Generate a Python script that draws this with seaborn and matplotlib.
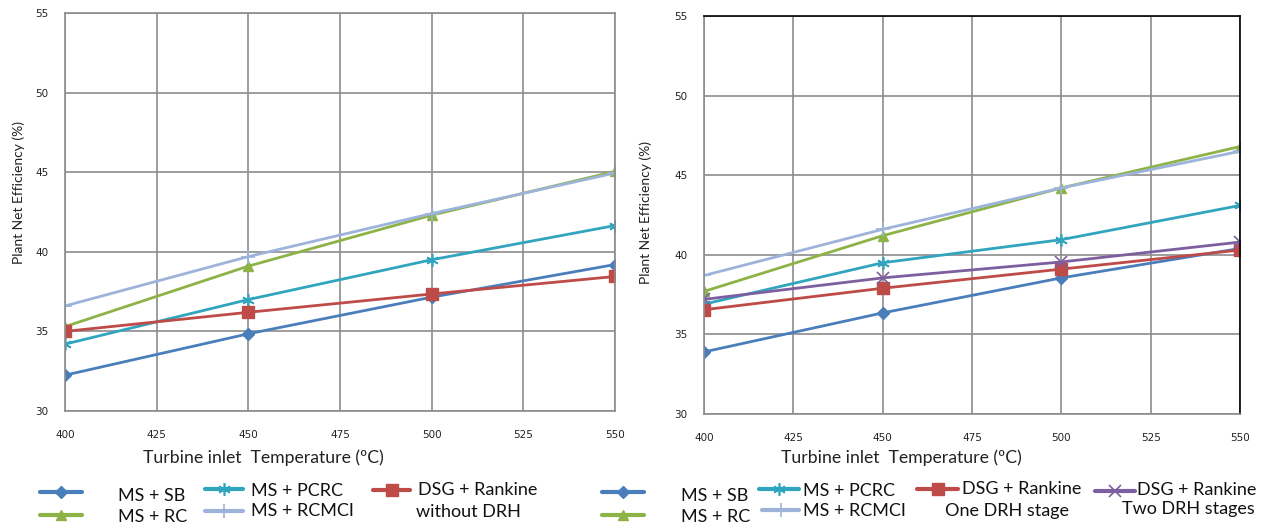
import matplotlib
matplotlib.use('Agg')
import matplotlib.pyplot as plt
from matplotlib.lines import Line2D
import seaborn as sns

sns.set_style('white')
plt.rcParams['font.family'] = ['DejaVu Sans']

# temperatures (ºC)
temps = [400, 450, 500, 550]

# left panel: without DRH
left_sb = [32.25, 34.85, 37.15, 39.2]
left_rc = [35.3, 39.1, 42.3, 45.05]
left_pcrc = [34.2, 37.0, 39.5, 41.65]
left_rcmci = [36.6, 39.7, 42.4, 44.95]
left_dsg = [35.0, 36.2, 37.35, 38.45]

# right panel: with DRH
right_sb = [33.9, 36.35, 38.55, 40.4]
right_rc = [37.7, 41.2, 44.2, 46.8]
right_pcrc = [36.9, 39.5, 40.95, 43.1]
right_rcmci = [38.7, 41.6, 44.2, 46.5]
right_dsg1 = [36.55, 37.9, 39.1, 40.3]
right_dsg2 = [37.2, 38.55, 39.55, 40.8]

C_SB = '#4A7EBB'
C_RC = '#8DB347'
C_PCRC = '#31A4BE'
C_RCMCI = '#9DB3DA'
C_DSG1 = '#BE4B48'
C_DSG2 = '#7D5FA0'
ASTER = (6, 2, 0)

GRID = '#8C8C8C'
FONT = 'Lato'

fig = plt.figure(figsize=(12.82, 5.26), dpi=100)
axL = fig.add_axes([65/1282, 1-411/526, 550/1282, 398/526])
axR = fig.add_axes([704/1282, 1-414/526, 536/1282, 398/526])


def draw(ax, series):
    for vals, col, mk, ms, mew in series:
        sns.lineplot(x=temps, y=vals, ax=ax, color=col, marker=mk,
                     markersize=ms, markeredgewidth=mew, markeredgecolor=col,
                     linewidth=2.0, legend=False)
    ax.set_xlim(400, 550)
    ax.set_ylim(30, 55)
    ax.set_xticks([400, 425, 450, 475, 500, 525, 550])
    ax.set_yticks([30, 35, 40, 45, 50, 55])
    ax.grid(True, color=GRID, linewidth=1.2)
    ax.set_axisbelow(True)
    for s in ax.spines.values():
        s.set_color(GRID)
        s.set_linewidth(1.2)
    ax.tick_params(axis='both', length=0, labelsize=7.5, colors='#222222')
    ax.tick_params(axis='x', pad=14)
    ax.tick_params(axis='y', pad=12)
    ax.set_xlabel('')
    ax.set_ylabel('')


draw(axL, [
    (left_sb, C_SB, 'D', 6, 1),
    (left_rc, C_RC, '^', 7, 1),
    (left_pcrc, C_PCRC, ASTER, 9, 1.2),
    (left_rcmci, C_RCMCI, '+', 10, 1.2),
    (left_dsg, C_DSG1, 's', 9, 1),
])
draw(axR, [
    (right_sb, C_SB, 'D', 6, 1),
    (right_rc, C_RC, '^', 7, 1),
    (right_pcrc, C_PCRC, ASTER, 9, 1.2),
    (right_rcmci, C_RCMCI, '+', 10, 1.2),
    (right_dsg1, C_DSG1, 's', 9, 1),
    (right_dsg2, C_DSG2, 'x', 8, 1.2),
])
axR.spines['top'].set_color('black')
axR.spines['right'].set_color('black')

fig.text(19/1282, 1-193/526, 'Plant Net Efficiency (%)', rotation=90, ha='center',
         va='center', fontsize=10, family=FONT, color='#222222')
fig.text(646/1282, 1-213/526, 'Plant Net Efficiency (%)', rotation=90, ha='center',
         va='center', fontsize=10, family=FONT, color='#222222')

fig.text(263/1282, 1-458/526, 'Turbine inlet  Temperature (ºC)', ha='center', va='center',
         fontsize=12.7, family=FONT, color='#222222')
fig.text(901/1282, 1-458/526, 'Turbine inlet  Temperature (ºC)', ha='center', va='center',
         fontsize=12.7, family=FONT, color='#222222')


def key(x0, x1, y, col, mk, ms, mew=1):
    ln = Line2D([x0/1282, x1/1282], [1-y/526, 1-y/526], transform=fig.transFigure,
                color=col, linewidth=3)
    fig.add_artist(ln)
    mkr = Line2D([(x0+x1)/2/1282], [1-y/526], transform=fig.transFigure, color=col,
                 marker=mk, markersize=ms, markeredgewidth=mew, markeredgecolor=col,
                 linestyle='none')
    fig.add_artist(mkr)


def txt(x, y, s):
    fig.text(x/1282, 1-y/526, s, ha='left', va='center', fontsize=13,
             family=FONT, color='#111111')


# left legend
key(40, 82, 492, C_SB, 'D', 6)
key(40, 82, 515, C_RC, '^', 7)
key(205, 243, 489, C_PCRC, ASTER, 9, 1.2)
key(205, 243, 511, C_RCMCI, '+', 10, 1.2)
key(373, 410, 490, C_DSG1, 's', 9)
txt(118, 496, 'MS + SB')
txt(118, 517, 'MS + RC')
txt(251, 491, 'MS + PCRC')
txt(251, 511, 'MS + RCMCI')
txt(418, 490, 'DSG + Rankine')
txt(416, 512, 'without DRH')

# right legend
key(602, 644, 492, C_SB, 'D', 6)
key(602, 644, 515, C_RC, '^', 7)
key(759, 799, 489, C_PCRC, ASTER, 9, 1.2)
key(762, 799, 510, C_RCMCI, '+', 10, 1.2)
key(917, 958, 489, C_DSG1, 's', 9)
key(1095, 1135, 491, C_DSG2, 'x', 8, 1.2)
txt(681, 496, 'MS + SB')
txt(681, 517, 'MS + RC')
txt(803, 491, 'MS + PCRC')
txt(803, 511, 'MS + RCMCI')
txt(962, 489, 'DSG + Rankine')
txt(945, 511, 'One DRH stage')
txt(1137, 490, 'DSG + Rankine')
txt(1122, 509, 'Two DRH stages')

fig.savefig('out.png', dpi=100)
